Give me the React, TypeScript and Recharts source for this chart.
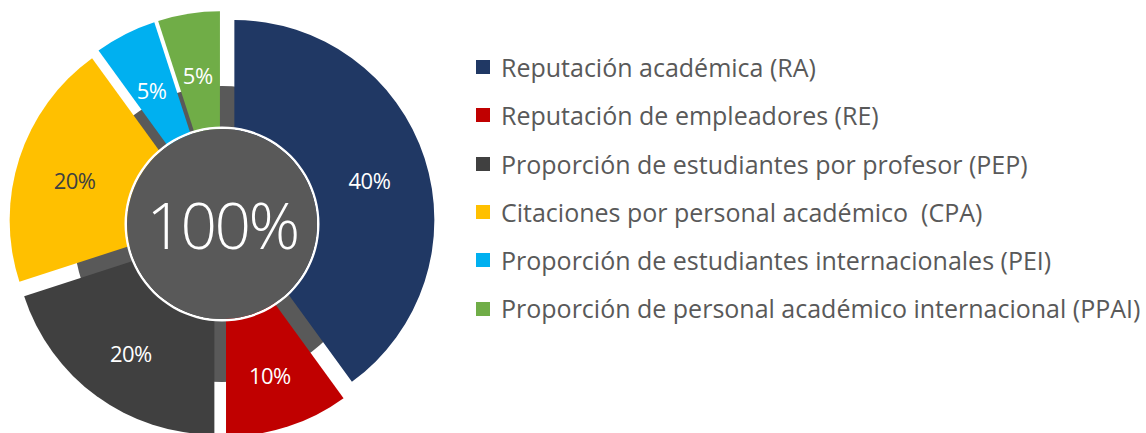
import React from "react";
import { PieChart, Pie, Cell, Legend } from "recharts";

// Ponderaciones de los indicadores
const categories = [
  "Reputación académica (RA)",
  "Reputación de empleadores (RE)",
  "Proporción de estudiantes por profesor (PEP)",
  "Citaciones por personal académico  (CPA)",
  "Proporción de estudiantes internacionales (PEI)",
  "Proporción de personal académico internacional (PPAI)",
];
const weights = [40, 10, 20, 20, 5, 5];
const totalValue = [100];
const totalLabel = "100%";

const colors = ["#203864", "#C00000", "#404040", "#FFC000", "#00B0F0", "#70AD47"];
const labelColors = ["#FFFFFF", "#FFFFFF", "#FFFFFF", "#404040", "#FFFFFF", "#FFFFFF"];

const data = categories.map((name, i) => ({ name, value: weights[i] }));
const totalData = totalValue.map((value) => ({ name: "Total", value }));

const FONT = "'Open Sans', 'Noto Sans', sans-serif";
const CX = 222;
const CY = 224;
const OUTER = 200;
const EXPLODE = 13;
const LABEL_R = 142;
const RAD = Math.PI / 180;

// desplazamiento de cada porción (explosión radial)
const sum = weights.reduce((a, b) => a + b, 0);
const offsets = weights.map((w, i) => {
  const before = weights.slice(0, i).reduce((a, b) => a + b, 0);
  const mid = 90 - (360 * (before + w / 2)) / sum;
  return { dx: EXPLODE * Math.cos(mid * RAD), dy: -EXPLODE * Math.sin(mid * RAD) };
});

const makeLabel = (i: number) => (p: any) => {
  if (p.index !== i) return null;
  const x = p.cx + LABEL_R * Math.cos(-p.midAngle * RAD);
  const y = p.cy + LABEL_R * Math.sin(-p.midAngle * RAD);
  return (
    <text
      x={x}
      y={y + 4}
      fill={labelColors[i]}
      textAnchor="middle"
      dominantBaseline="central"
      fontFamily={FONT}
      fontSize={22}
      letterSpacing={-0.5}
    >
      {`${p.value}%`}
    </text>
  );
};

const renderCenter = (p: any) => (
  <text
    x={p.cx}
    y={p.cy}
    fill="#FFFFFF"
    textAnchor="middle"
    dominantBaseline="central"
    fontFamily={FONT}
    fontSize={64}
    fontWeight={300}
    letterSpacing={-2.5}
  >
    {totalLabel}
  </text>
);

const LegendContent = () => (
  <div style={{ fontFamily: FONT, fontSize: 25, color: "#595959" }}>
    {categories.map((name, i) => (
      <div key={name} style={{ display: "flex", alignItems: "center", height: 48.3, whiteSpace: "pre" }}>
        <span style={{ width: 14, height: 14, background: colors[i], marginRight: 11, flex: "none" }} />
        <span style={{ lineHeight: "48.3px" }}>{name}</span>
      </div>
    ))}
  </div>
);

export default function App() {
  return (
    <div style={{ position: "absolute", left: 0, top: 0, width: 1146, height: 433, background: "#fff" }}>
      <PieChart width={1146} height={433} margin={{ top: 0, right: 0, bottom: 0, left: 0 }}>
        {/* fondo gris visible entre las porciones */}
        <Pie
          data={totalData}
          dataKey="value"
          cx={CX}
          cy={CY + 10}
          outerRadius={148}
          startAngle={90}
          endAngle={-270}
          fill="#595959"
          stroke="none"
          isAnimationActive={false}
        />
        {weights.map((_, i) => (
          <Pie
            key={i}
            data={data}
            dataKey="value"
            cx={CX + offsets[i].dx}
            cy={CY + offsets[i].dy}
            innerRadius={0}
            outerRadius={OUTER}
            startAngle={90}
            endAngle={-270}
            stroke="none"
            label={makeLabel(i)}
            labelLine={false}
            isAnimationActive={false}
          >
            {data.map((d, j) => (
              <Cell key={d.name} fill={j === i ? colors[j] : "none"} />
            ))}
          </Pie>
        ))}
        <Pie
          data={totalData}
          dataKey="value"
          cx={CX}
          cy={CY}
          innerRadius={95}
          outerRadius={97.5}
          startAngle={90}
          endAngle={-270}
          fill="#FFFFFF"
          stroke="none"
          isAnimationActive={false}
        />
        <Pie
          data={totalData}
          dataKey="value"
          cx={CX}
          cy={CY}
          outerRadius={95}
          startAngle={90}
          endAngle={-270}
          fill="#595959"
          stroke="none"
          label={renderCenter}
          labelLine={false}
          isAnimationActive={false}
        />
        <Legend
          layout="vertical"
          align="right"
          verticalAlign="top"
          wrapperStyle={{ left: 476, top: 43, width: 670 }}
          content={() => <LegendContent />}
        />
      </PieChart>
    </div>
  );
}
